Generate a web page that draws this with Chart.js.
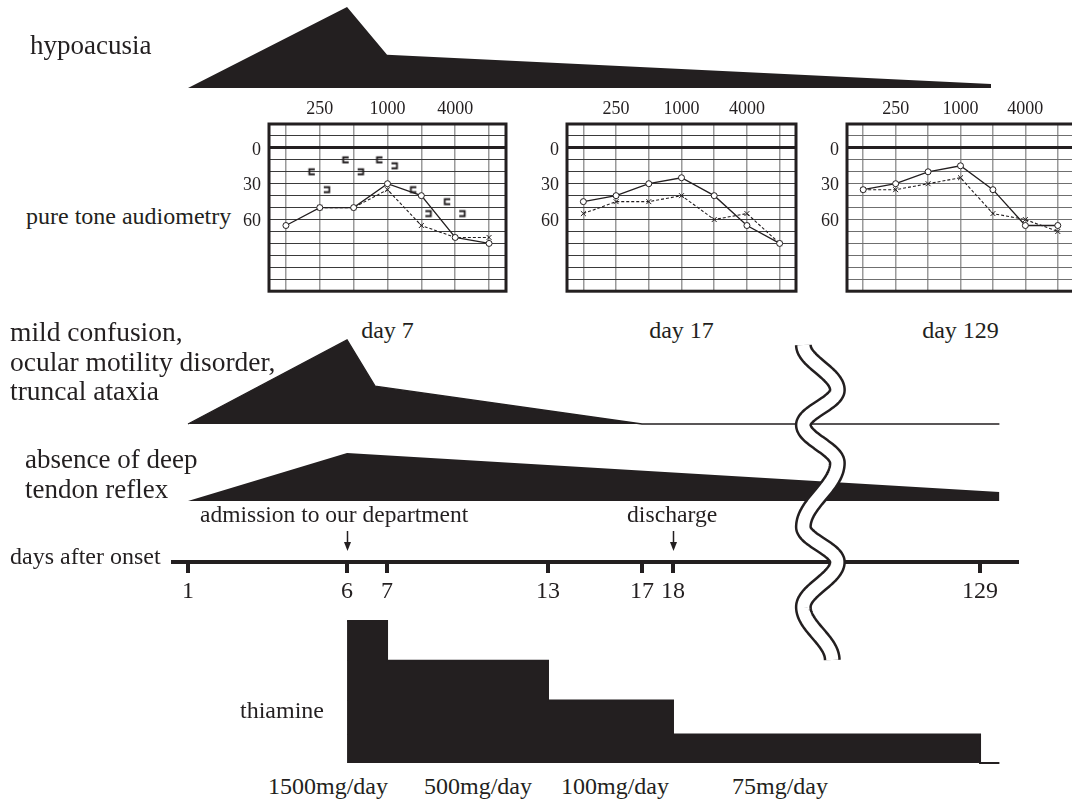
<!DOCTYPE html>
<html>
<head>
<meta charset="utf-8">
<script src="https://cdn.jsdelivr.net/npm/chart.js@4.4.1/dist/chart.umd.min.js"></script>
<style>
  html, body { margin: 0; padding: 0; background: #fff; overflow: hidden; }
  #page { position: relative; width: 1072px; height: 803px; overflow: hidden;
          font-family: "Liberation Serif", "Times New Roman", serif; color: #231f20; }
  #page canvas { position: absolute; }
  .lbl { position: absolute; white-space: nowrap; line-height: 1; }
</style>
</head>
<body>
<div id="page"></div>
<script>
const INK = "#231f20";

// timeline
const axisDays = [1, 6, 7, 13, 17, 18, 129];
const eventLabels = ["admission to our department", "discharge"];
const eventDays = [6, 18];

// symptom severity (relative, peak = 100)
const hypoDays = [1, 6, 7, 133];
const hypoLevel = [0, 100, 41, 5];
const confusionDays = [1, 6, 6.7, 17, 136];
const confusionLevel = [0, 100, 45, 0, 0];
const reflexDays = [1, 6, 136];
const reflexLevel = [0, 100, 19];

// thiamine dosing steps (bar height relative to the first dose)
const thiamineDays = [6, 7, 13, 18, 129, 136];
const thiamineLevel = [100, 72, 44, 20, 0, 0];
const thiamineDoses = ["1500mg/day", "500mg/day", "100mg/day", "75mg/day"];

// pure tone audiometry, dB HL
const freqs = [125, 250, 500, 1000, 2000, 4000, 8000];
const freqLabels = [250, 1000, 4000];
const dbLabels = [0, 30, 60];
const audiogramDays = [7, 17, 129];
const day7Right = [65, 50, 50, 30, 40, 75, 80];
const day7Left = [null, 50, 50, 35, 65, 75, 75];
const day7BoneRight = [null, 20, 10, 10, 35, 45, null];
const day7BoneLeft = [null, 35, 20, 15, 55, 55, null];
const day17Right = [45, 40, 30, 25, 40, 65, 80];
const day17Left = [55, 45, 45, 40, 60, 55, 80];
const day129Right = [35, 30, 20, 15, 35, 65, 65];
const day129Left = [35, 35, 30, 25, 55, 60, 70];

Chart.defaults.font.family = '"Liberation Serif", "Times New Roman", serif';
Chart.defaults.color = INK;

const page = document.getElementById("page");

function addCanvas(left, top, w, h) {
  const c = document.createElement("canvas");
  c.width = w; c.height = h;
  c.style.left = left + "px"; c.style.top = top + "px";
  page.appendChild(c);
  return c;
}

function addText(text, x, baseline, size, center) {
  const d = document.createElement("div");
  d.className = "lbl";
  d.textContent = text;
  d.style.fontSize = size + "px";
  d.style.top = (baseline - 0.8375 * size) + "px";
  d.style.left = x + "px";
  if (center) d.style.transform = "translateX(-50%)";
  page.appendChild(d);
}

// the drawn day axis is not to scale: where each labelled day sits along it
const axisSpacing = [[1, 0.0178], [6, 0.2062], [7, 0.2536], [13, 0.4443],
                     [17, 0.5557], [18, 0.5924], [129, 0.9562]];

function axisFraction(day) {
  let i = 1;
  while (i < axisSpacing.length - 1 && day > axisSpacing[i][0]) i++;
  const [d0, f0] = axisSpacing[i - 1];
  const [d1, f1] = axisSpacing[i];
  return f0 + (day - d0) * (f1 - f0) / (d1 - d0);
}

class TimelineScale extends Chart.LinearScale {
  getPixelForValue(value) {
    return this.left + this.width * axisFraction(value);
  }
  getValueForPixel(pixel) {
    const f = (pixel - this.left) / this.width;
    let i = 1;
    while (i < axisSpacing.length - 1 && f > axisSpacing[i][1]) i++;
    const [d0, f0] = axisSpacing[i - 1];
    const [d1, f1] = axisSpacing[i];
    return d0 + (f - f0) * (d1 - d0) / (f1 - f0);
  }
}
TimelineScale.id = "timeline";
TimelineScale.defaults = {};
Chart.register(TimelineScale);

const AXIS_LEFT = 173, AXIS_RIGHT = 1017, W = 1072;

function points(days, levels) {
  return days.map((d, i) => ({ x: d, y: levels[i] }));
}

function baseOptions(padTop, padBottom) {
  return {
    responsive: false,
    animation: false,
    events: [],
    layout: { padding: { left: AXIS_LEFT, right: W - AXIS_RIGHT, top: padTop, bottom: padBottom } },
    plugins: { legend: { display: false }, tooltip: { enabled: false } },
    scales: {
      x: { type: "timeline", display: false, min: 0, max: 140 },
      y: { display: false, min: 0, max: 100 }
    }
  };
}

function track(top, bottom, data, lineWidth) {
  const pad = 4;
  const cv = addCanvas(0, top - pad, W, bottom - top + 2 * pad);
  new Chart(cv, {
    type: "line",
    data: { datasets: [{
      data: data, fill: "origin", backgroundColor: INK, borderColor: INK,
      borderWidth: lineWidth, pointRadius: 0, tension: 0, clip: false
    }] },
    options: baseOptions(pad, pad)
  });
}

// ---- hypoacusia ----
track(7, 88.5, points(hypoDays, hypoLevel), 0);

// ---- audiograms ----
const framePlugin = {
  id: "frame",
  afterDraw(chart) {
    const a = chart.chartArea, ctx = chart.ctx;
    ctx.save();
    ctx.strokeStyle = INK;
    ctx.lineWidth = 3;
    ctx.strokeRect(a.left, a.top, a.right - a.left, a.bottom - a.top);
    ctx.restore();
  }
};

function bracket(openRight) {
  const c = document.createElement("canvas");
  c.width = 26; c.height = 10;
  const g = c.getContext("2d");
  g.strokeStyle = INK;
  g.lineWidth = 1.8;
  g.beginPath();
  if (openRight) {
    g.moveTo(8, 2.5); g.lineTo(2.5, 2.5); g.lineTo(2.5, 7.5); g.lineTo(8, 7.5);
  } else {
    g.moveTo(17, 2.5); g.lineTo(22.5, 2.5); g.lineTo(22.5, 7.5); g.lineTo(17, 7.5);
  }
  g.stroke();
  return c;
}

function series(values) {
  return values.map((v, i) => ({ x: i, y: v }));
}

function audiogram(frame, day, right, left, boneRight, boneLeft, hColor) {
  const axisW = 34, axisH = 28, pad = 4;
  const fw = frame.right - frame.left, fh = frame.bottom - frame.top;
  const cvLeft = frame.left - axisW, cvTop = frame.top - axisH;
  const cv = addCanvas(cvLeft, cvTop, fw + axisW + pad, fh + axisH + pad);
  const datasets = [
    { data: series(right), borderColor: INK, borderWidth: 1.3, pointStyle: "circle",
      pointRadius: 3, pointBackgroundColor: "#fff", pointBorderColor: INK, pointBorderWidth: 1 },
    { data: series(left), borderColor: INK, borderWidth: 1.1, borderDash: [3, 2], pointStyle: "crossRot",
      pointRadius: 3.5, pointBorderColor: INK, pointBorderWidth: 1 }
  ];
  if (boneRight) datasets.push({ data: series(boneRight), showLine: false, pointStyle: bracket(true), pointRadius: 3 });
  if (boneLeft) datasets.push({ data: series(boneLeft), showLine: false, pointStyle: bracket(false), pointRadius: 3 });

  const chart = new Chart(cv, {
    type: "line",
    data: { datasets },
    options: {
      responsive: false,
      animation: false,
      events: [],
      layout: { padding: { left: 0, top: 0, right: pad, bottom: pad } },
      plugins: { legend: { display: false }, tooltip: { enabled: false } },
      scales: {
        x: {
          type: "linear", position: "top", min: -0.5, max: 6.5,
          afterBuildTicks: s => { s.ticks = freqs.map((f, i) => ({ value: i })); },
          afterFit: s => { s.height = axisH; },
          ticks: {
            callback: v => freqLabels.includes(freqs[v]) ? String(freqs[v]) : "",
            font: { size: 18 }, color: INK, padding: 4, autoSkip: false, maxRotation: 0
          },
          grid: { color: "#9a9a9a", lineWidth: 1.5, drawTicks: false },
          border: { display: false }
        },
        y: {
          type: "linear", reverse: true, min: -20, max: 120,
          afterBuildTicks: s => {
            const t = [];
            for (let v = -20; v <= 120; v += 10) t.push({ value: v });
            s.ticks = t;
          },
          afterFit: s => { s.width = axisW; },
          ticks: {
            callback: v => dbLabels.includes(v) ? String(v) : "",
            font: { size: 18 }, color: INK, padding: 8, autoSkip: false, labelOffset: 2
          },
          grid: {
            color: c => (c.tick && c.tick.value === 0) ? INK : hColor,
            lineWidth: c => (c.tick && c.tick.value === 0) ? 3 : 1,
            drawTicks: false
          },
          border: { display: false }
        }
      }
    },
    plugins: [framePlugin]
  });
  const cx = cvLeft + chart.scales.x.getPixelForValue(freqs.indexOf(1000));
  addText("day " + day, cx, 338, 24, true);
}

const frames = [
  { left: 269, right: 507, top: 124, bottom: 306 },
  { left: 567, right: 797, top: 124, bottom: 306 },
  { left: 847, right: 1075, top: 124, bottom: 306 }
];
audiogram(frames[0], audiogramDays[0], day7Right, day7Left, day7BoneRight, day7BoneLeft, "#3a3a3a");
audiogram(frames[1], audiogramDays[1], day17Right, day17Left, null, null, "#3a3a3a");
audiogram(frames[2], audiogramDays[2], day129Right, day129Left, null, null, "#6f6f6f");

// ---- neurological signs ----
track(340, 424, points(confusionDays, confusionLevel), 1.4);
track(453, 501, points(reflexDays, reflexLevel), 0);

// ---- day axis with events and axis break ----
const arrowPlugin = {
  id: "eventArrows",
  afterDraw(chart) {
    const ctx = chart.ctx, x = chart.scales.x, base = chart.chartArea.bottom;
    ctx.save();
    ctx.strokeStyle = INK; ctx.fillStyle = INK; ctx.lineWidth = 1.5;
    eventDays.forEach(d => {
      const px = Math.round(x.getPixelForValue(d)) + 0.5;
      ctx.beginPath(); ctx.moveTo(px, base - 31); ctx.lineTo(px, base - 18); ctx.stroke();
      ctx.beginPath(); ctx.moveTo(px - 3.5, base - 20); ctx.lineTo(px + 3.5, base - 20);
      ctx.lineTo(px, base - 11); ctx.closePath(); ctx.fill();
    });
    ctx.restore();
  }
};

// hand-drawn double wavy break: turning points (distance below the top, side)
const breakTurns = [[0, -1], [45, 1], [80, -1], [118, 1], [182, -1], [217, 1], [262, -1], [315, 0.7]];

const breakPlugin = {
  id: "axisBreak",
  afterDraw(chart) {
    const x = chart.scales.x, ctx = chart.ctx;
    const a = x.getPixelForValue(18), b = x.getPixelForValue(129);
    const cx = a + 0.48 * (b - a);
    const y0 = 15, amp = 17;
    const path = new Path2D();
    for (let k = 0; k < breakTurns.length - 1; k++) {
      const [ya, sa] = breakTurns[k], [yb, sb] = breakTurns[k + 1];
      for (let y = ya; y <= yb; y += 1) {
        const t = (y - ya) / (yb - ya);
        const s = sa + (sb - sa) * (1 - Math.cos(Math.PI * t)) / 2;
        const px = cx + amp * s, py = y0 + y;
        if (k === 0 && y === ya) path.moveTo(px, py); else path.lineTo(px, py);
      }
    }
    ctx.save();
    ctx.lineCap = "butt"; ctx.lineJoin = "round";
    ctx.strokeStyle = INK; ctx.lineWidth = 17; ctx.stroke(path);
    ctx.strokeStyle = "#fff"; ctx.lineWidth = 12; ctx.stroke(path);
    ctx.restore();
  }
};

const axisTop = 330, axisH = 345, axisLine = 562;
const axisCanvas = addCanvas(0, axisTop, W, axisH);
const axisOpts = baseOptions(0, 0);
axisOpts.scales.x = {
  type: "timeline", display: true, position: "bottom", min: 0, max: 140,
  afterBuildTicks: s => { s.ticks = axisDays.map(v => ({ value: v })); },
  afterFit: s => { s.height = axisH - (axisLine - axisTop); },
  ticks: { callback: v => String(v), font: { size: 24 }, color: INK, padding: 4, autoSkip: false, maxRotation: 0 },
  grid: { drawOnChartArea: false, drawTicks: true, tickLength: 11, lineWidth: 4, color: INK },
  border: { display: true, width: 4, color: INK }
};
new Chart(axisCanvas, {
  type: "line",
  data: { datasets: [] },
  options: axisOpts,
  plugins: [arrowPlugin, breakPlugin]
});

// ---- thiamine ----
(function () {
  const pad = 4, top = 621, bottom = 763;
  const cv = addCanvas(0, top - pad, W, bottom - top + 2 * pad);
  new Chart(cv, {
    type: "line",
    data: { datasets: [{
      data: points(thiamineDays, thiamineLevel), stepped: "before", fill: "origin",
      backgroundColor: INK, borderColor: INK, borderWidth: 2, pointRadius: 0, clip: false
    }] },
    options: baseOptions(pad, pad)
  });
})();

// ---- text ----
addText("hypoacusia", 30, 55, 27);
addText("pure tone audiometry", 26, 224, 24);
addText("mild confusion,", 10, 341, 27.5);
addText("ocular motility disorder,", 10, 371, 27.5);
addText("truncal ataxia", 10, 400, 27.5);
addText("absence of deep", 25, 469, 27);
addText("tendon reflex", 25, 499, 27);
addText(eventLabels[0], 200, 523, 23.5);
addText(eventLabels[1], 627, 523, 23.7);
addText("days after onset", 10, 564, 24);
addText("thiamine", 240, 718, 24);
const doseX = [268, 424, 561, 732];
thiamineDoses.forEach((t, i) => addText(t, doseX[i], 794, 24));
</script>
</body>
</html>
